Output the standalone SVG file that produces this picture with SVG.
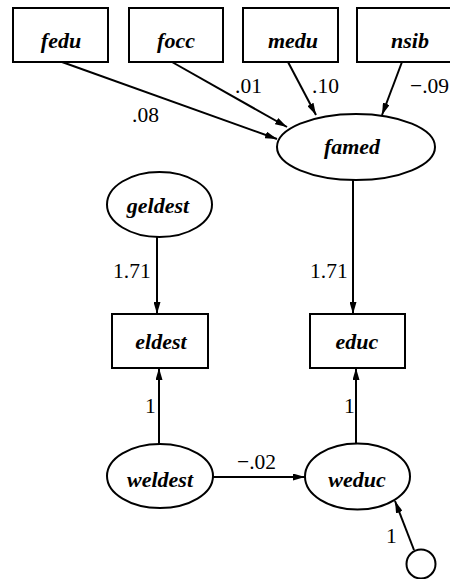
<svg xmlns="http://www.w3.org/2000/svg" width="450" height="579" viewBox="0 0 450 579">
  <defs>
    <style>
      .node rect, .node ellipse, .node circle { fill: #fff; stroke: #000; stroke-width: 2; }
      .lbl { font-family: 'Liberation Serif', 'DejaVu Serif', serif; font-style: italic; font-weight: bold; font-size: 22px; text-anchor: middle; fill: #000; }
      .coef { font-family: 'Liberation Serif', 'DejaVu Serif', serif; font-size: 21.5px; fill: #000; }
      .edge { stroke: #000; stroke-width: 2; fill: none; marker-end: url(#arr); }
    </style>
    <marker id="arr" viewBox="0 0 12 7" refX="12" refY="3.5" markerWidth="12" markerHeight="7" markerUnits="userSpaceOnUse" orient="auto">
      <path d="M0,0 L12,3.5 L0,7 Z" fill="#000"/>
    </marker>
  </defs>

  <rect width="450" height="579" fill="#fff"/>

  <!-- connectors -->
  <g id="edges">
    <line class="edge" x1="62" y1="62" x2="277" y2="139"/>
    <line class="edge" x1="172" y1="62" x2="287" y2="127"/>
    <line class="edge" x1="288" y1="62" x2="316" y2="115"/>
    <line class="edge" x1="402" y1="62" x2="382" y2="115"/>
    <line class="edge" x1="353" y1="180" x2="353" y2="314"/>
    <line class="edge" x1="157" y1="237" x2="157" y2="314"/>
    <line class="edge" x1="159" y1="444" x2="159" y2="368"/>
    <line class="edge" x1="356" y1="443" x2="356" y2="368"/>
    <line class="edge" x1="213" y1="477" x2="305" y2="477"/>
    <line class="edge" x1="414" y1="550" x2="395" y2="501"/>

    <text class="coef" x="132" y="122">.08</text>
    <text class="coef" x="235" y="93">.01</text>
    <text class="coef" x="312" y="93">.10</text>
    <text class="coef" x="410" y="93">−.09</text>
    <text class="coef" x="113" y="278">1.71</text>
    <text class="coef" x="310" y="278">1.71</text>
    <text class="coef" x="145" y="413">1</text>
    <text class="coef" x="344" y="413">1</text>
    <text class="coef" x="237" y="469">−.02</text>
    <text class="coef" x="386" y="543">1</text>
  </g>

  <!-- observed variables -->
  <g id="fedu" class="node">
    <rect x="13" y="8" width="95" height="54"/>
    <text class="lbl" x="61" y="48">fedu</text>
  </g>
  <g id="focc" class="node">
    <rect x="129" y="8" width="94" height="54"/>
    <text class="lbl" x="176" y="48">focc</text>
  </g>
  <g id="medu" class="node">
    <rect x="243" y="8" width="95" height="54"/>
    <text class="lbl" x="293" y="48">medu</text>
  </g>
  <g id="nsib" class="node">
    <rect x="357" y="8" width="105" height="54"/>
    <text class="lbl" x="410" y="48">nsib</text>
  </g>
  <g id="eldest" class="node">
    <rect x="112" y="314" width="96" height="54"/>
    <text class="lbl" x="161" y="349">eldest</text>
  </g>
  <g id="educ" class="node">
    <rect x="310" y="314" width="95" height="54"/>
    <text class="lbl" x="357" y="349">educ</text>
  </g>

  <!-- latent variables -->
  <g id="famed" class="node">
    <ellipse cx="356" cy="147" rx="79" ry="33"/>
    <text class="lbl" x="352" y="154">famed</text>
  </g>
  <g id="geldest" class="node">
    <ellipse cx="159.5" cy="204.5" rx="52.5" ry="32.5"/>
    <text class="lbl" x="158" y="213">geldest</text>
  </g>
  <g id="weldest" class="node">
    <ellipse cx="160" cy="476" rx="53" ry="32"/>
    <text class="lbl" x="160" y="487">weldest</text>
  </g>
  <g id="weduc" class="node">
    <ellipse cx="357.5" cy="476.5" rx="52.5" ry="33"/>
    <text class="lbl" x="357" y="487">weduc</text>
  </g>
  <g id="err" class="node">
    <circle cx="421" cy="564" r="14.5"/>
  </g>
</svg>
